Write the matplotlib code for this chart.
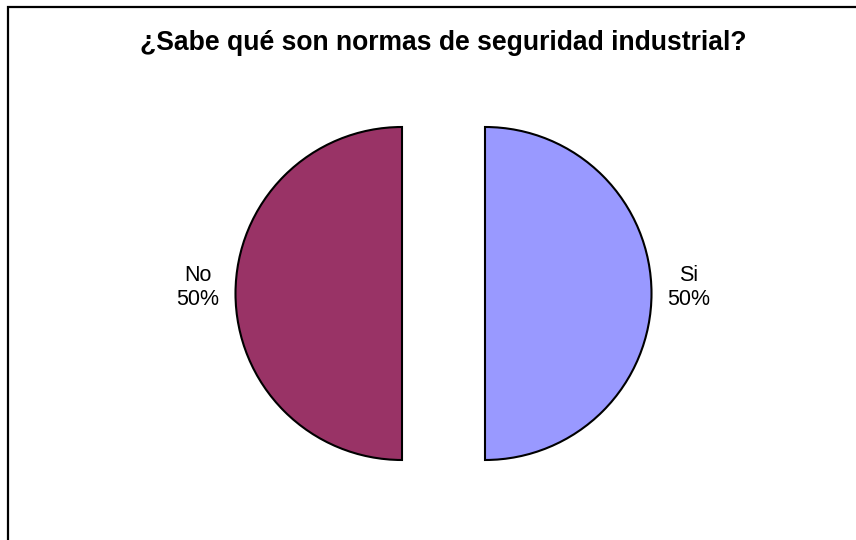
import matplotlib
matplotlib.use("Agg")
import matplotlib.pyplot as plt
from matplotlib.patches import Rectangle

plt.rcParams['font.family'] = ['Liberation Sans', 'DejaVu Sans']

title = "¿Sabe qué son normas de seguridad industrial?"
categories = ["Si", "No"]
values = [50, 50]
colors = ["#9999FF", "#993366"]

W, H = 856, 540
fig = plt.figure(figsize=(W / 100, H / 100), dpi=100)
ax = fig.add_axes([0, 0, 1, 1])

# chart border
ax.add_patch(Rectangle((8.5, -10), W + 20, H - 6.5 + 10, fill=False,
                       edgecolor='black', linewidth=1.6))

total = sum(values)
wedges, texts = ax.pie(
    values,
    labels=[f"{c}\n{v / total * 100:.0f}%" for c, v in zip(categories, values)],
    colors=colors,
    startangle=90,
    counterclock=False,
    explode=[41.5, 41.5],
    radius=166.5,
    center=(443.5, H - 293.5),
    labeldistance=1.225,
    wedgeprops=dict(edgecolor='black', linewidth=1.5),
    textprops=dict(fontsize=15.5, color='black', linespacing=1.2),
    frame=True,
)
for t in texts:
    t.set_ha('center')
    t.set_va('center')
    x, y = t.get_position()
    t.set_position((x, y + 6))

ax.set_xlim(0, W)
ax.set_ylim(0, H)
ax.set_aspect('equal')
ax.axis('off')

ax.text(443, H - 43, title, ha='center', va='center', fontsize=19.1,
        fontweight='bold')

fig.savefig("out.png", dpi=100)
